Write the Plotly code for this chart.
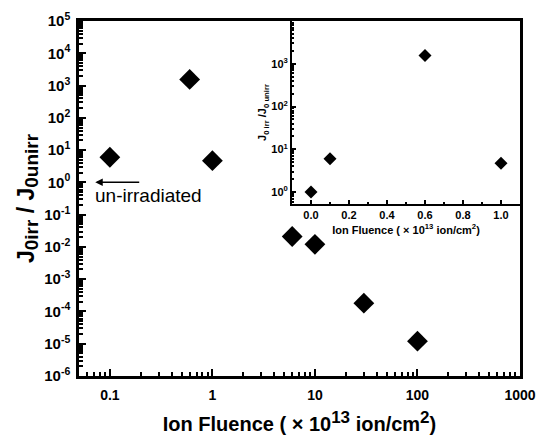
import plotly.graph_objects as go
import math

fluence = [0.1, 0.6, 1, 6, 10, 30, 100]
ratio = [6, 1550, 4.7, 0.021, 0.012, 1.8e-4, 1.2e-5]

inset_fluence = [0.0, 0.1, 0.6, 1.0]
inset_ratio = [1.0, 6, 1550, 4.7]

main_yvals = [10.0**k for k in range(-6, 6)]
main_ytext = ["10<sup>%d</sup>" % k for k in range(-6, 6)]
main_xvals = [0.1, 1, 10, 100, 1000]
main_xtext = ["0.1", "1", "10", "100", "1000"]
inset_yvals = [1, 10, 100, 1000]
inset_ytext = ["10<sup>0</sup>", "10<sup>1</sup>", "10<sup>2</sup>", "10<sup>3</sup>"]

FONT = "Liberation Sans"
BLACK = "black"

fig = go.Figure()
fig.add_trace(go.Scatter(x=fluence, y=ratio, mode="markers",
                         marker=dict(symbol="diamond", size=16, color=BLACK),
                         xaxis="x", yaxis="y", showlegend=False))
fig.add_trace(go.Scatter(x=inset_fluence, y=inset_ratio, mode="markers",
                         marker=dict(symbol="diamond", size=10, color=BLACK),
                         xaxis="x2", yaxis="y2", showlegend=False))

axis_common = dict(showgrid=False, zeroline=False, showline=True, linecolor=BLACK,
                   mirror=True, ticks="inside", tickcolor=BLACK, automargin=False)

ytitle = ("J<sub><span style='font-size:19px'>0irr</span></sub> / "
          "J<sub><span style='font-size:19px'>0unirr</span></sub>")
xtitle = ("Ion Fluence ( × 10<sup><span style='font-size:17px'>13</span></sup> "
          "ion/cm<sup><span style='font-size:17px'>2</span></sup>)")

fig.update_layout(
    width=537, height=439,
    margin=dict(l=79, r=17, t=21, b=63),
    paper_bgcolor="white", plot_bgcolor="white",
    font=dict(family=FONT, color=BLACK),
    xaxis=dict(type="log", range=[math.log10(0.05), 3], domain=[0, 1],
               tickvals=main_xvals, ticktext=main_xtext, linewidth=2.5, ticklen=7, tickwidth=2,
               tickfont=dict(size=14, family=FONT, weight="bold"), ticklabelstandoff=4,
               minor=dict(ticks="inside", ticklen=4, tickcolor=BLACK, tickwidth=1.5, dtick="D1"),
               title=dict(text=xtitle,
                          font=dict(size=20, family=FONT, weight="bold"), standoff=16),
               **axis_common),
    yaxis=dict(type="log", range=[-6, 5], domain=[0, 1],
               tickvals=main_yvals, ticktext=main_ytext, linewidth=2.5, ticklen=7, tickwidth=2,
               tickfont=dict(size=15, family=FONT, weight="bold"), ticklabelstandoff=3,
               minor=dict(ticks="inside", ticklen=4, tickcolor=BLACK, tickwidth=1.5, dtick="D1"),
               title=dict(text=ytitle,
                          font=dict(size=23, family=FONT, weight="bold"), standoff=4),
               **axis_common),
    xaxis2=dict(range=[-0.1, 1.1], domain=[0.483, 1.0], anchor="y2",
                tickvals=[0, 0.2, 0.4, 0.6, 0.8, 1.0],
                ticktext=["0.0", "0.2", "0.4", "0.6", "0.8", "1.0"],
                linewidth=2, ticklen=4, tickwidth=1.5,
                tickfont=dict(size=11, family=FONT, weight="bold"),
                minor=dict(ticks="inside", ticklen=2, dtick=0.1, tickcolor=BLACK),
                title=dict(text="Ion Fluence ( × 10<sup>13</sup> ion/cm<sup>2</sup>)",
                           font=dict(size=11, family=FONT, weight="bold"), standoff=6),
                **axis_common),
    yaxis2=dict(type="log", range=[-0.28, 4.0], domain=[0.4845, 1.0], anchor="x2",
                tickvals=inset_yvals, ticktext=inset_ytext,
                linewidth=2, ticklen=4, tickwidth=1.5,
                tickfont=dict(size=11, family=FONT, weight="bold"),
                minor=dict(ticks="inside", ticklen=2, tickcolor=BLACK, dtick="D1"),
                title=dict(text="J<sub>0 irr</sub> /J<sub>0 unirr</sub>",
                           font=dict(size=11, family=FONT, weight="bold"), standoff=2),
                **axis_common),
)

fig.add_annotation(x=math.log10(0.072), y=0, ax=math.log10(0.2), ay=0,
                   xref="x", yref="y", axref="x", ayref="y",
                   showarrow=True, arrowhead=2, arrowsize=1, arrowwidth=1.5,
                   arrowcolor=BLACK, text="")
fig.add_annotation(x=math.log10(0.24), y=-0.42, xref="x", yref="y",
                   text="un-irradiated", showarrow=False,
                   font=dict(size=19, family=FONT, color=BLACK))

fig.write_html("out.html")
